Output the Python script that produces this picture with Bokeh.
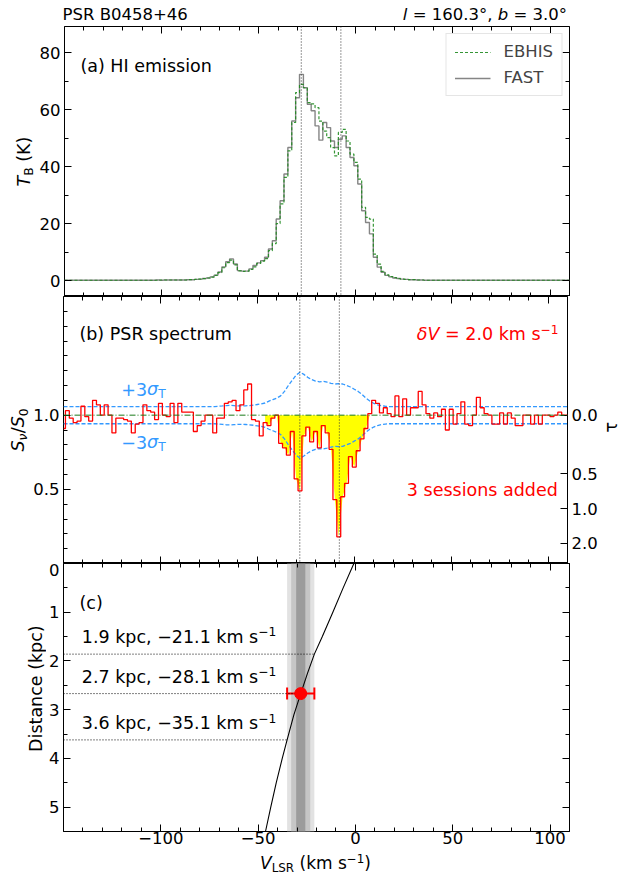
import numpy as np
from bokeh.plotting import figure
from bokeh.models import (Range1d, LinearAxis, FixedTicker, Span, Label, Legend,
                          LegendItem, BoxAnnotation, Whisker, TeeHead, ColumnDataSource,
                          CustomLabelingPolicy)
from bokeh.layouts import column, row
from bokeh.embed import file_html
from bokeh.resources import INLINE

FONT = "DejaVu Sans"

# ---------------- data ----------------
# channel centres (km/s), 2.0 km/s channels
v_chan = list(range(-150, 112, 2))

# (a) HI brightness temperature (K)
T_fast = [0.1, 0.1, 0.1, 0.1, 0.1, 0.1, 0.1, 0.1, 0.1, 0.1,
          0.1, 0.1, 0.1, 0.1, 0.1, 0.1, 0.1, 0.1, 0.1, 0.1,
          0.1, 0.1, 0.1, 0.1, 0.2, 0.1, 0.2, 0.2, 0.2, 0.2,
          0.2, 0.2, 0.3, 0.3, 0.4, 0.5, 0.7, 0.9, 1.3, 1.9,
          3.0, 4.8, 6.6, 7.6, 5.8, 3.5, 3.3, 3.3, 4.1, 5.3,
          6.2, 7.0, 8.2, 11.1, 14.0, 21.6, 28.0, 37.4, 46.7, 56.0,
          64.2, 72.4, 67.7, 61.9, 59.6, 54.3, 49.3, 55.5, 53.7, 49.0,
          46.7, 49.6, 50.8, 46.7, 43.2, 40.3, 33.9, 24.5, 20.4, 16.4,
          8.2, 4.7, 2.9, 1.8, 1.3, 0.9, 0.7, 0.5, 0.4, 0.3,
          0.3, 0.2, 0.2, 0.1, 0.1, 0.1, 0.1, 0.1, 0.1, 0.1,
          0.1, 0.1, 0.1, 0.1, 0.1, 0.1, 0.1, 0.1, 0.1, 0.1,
          0.1, 0.1, 0.1, 0.1, 0.1, 0.1, 0.1, 0.1, 0.1, 0.1,
          0.1, 0.1, 0.1, 0.1, 0.1, 0.1, 0.1, 0.1, 0.1, 0.1, 0.1]
T_ebhis = [0.1, 0.1, 0.1, 0.1, 0.1, 0.1, 0.1, 0.1, 0.1, 0.1,
           0.1, 0.1, 0.1, 0.1, 0.1, 0.1, 0.1, 0.1, 0.1, 0.1,
           0.1, 0.1, 0.1, 0.1, 0.1, 0.2, 0.2, 0.2, 0.2, 0.2,
           0.2, 0.2, 0.3, 0.3, 0.4, 0.5, 0.7, 0.9, 1.2, 1.8,
           2.8, 4.5, 6.3, 7.2, 5.5, 3.4, 3.2, 3.3, 3.9, 4.8,
           6.0, 6.8, 7.7, 10.5, 13.0, 20.0, 26.9, 36.2, 45.5, 55.5,
           66.0, 68.9, 67.7, 62.5, 62.0, 60.7, 56.0, 52.5, 50.2, 46.7,
           43.8, 52.0, 53.1, 49.0, 44.4, 41.5, 35.6, 25.7, 22.2, 21.6,
           9.3, 5.8, 3.2, 2.0, 1.4, 1.0, 0.7, 0.5, 0.4, 0.3,
           0.3, 0.2, 0.2, 0.1, 0.1, 0.1, 0.1, 0.1, 0.1, 0.1,
           0.1, 0.1, 0.1, 0.1, 0.1, 0.1, 0.1, 0.1, 0.1, 0.1,
           0.1, 0.1, 0.1, 0.1, 0.1, 0.1, 0.1, 0.1, 0.1, 0.1,
           0.1, 0.1, 0.1, 0.1, 0.1, 0.1, 0.1, 0.1, 0.1, 0.1, 0.1]

# (b) pulsar on/off spectrum S_nu/S_0
S_psr = [0.91, 1.03, 0.98, 0.95, 0.96, 1.06, 0.99, 0.96, 1.10, 1.07,
         1.00, 1.07, 1.00, 0.88, 0.98, 0.98, 0.97, 0.96, 0.88, 0.94,
         0.95, 1.07, 1.03, 1.02, 0.97, 1.08, 1.00, 0.99, 1.08, 0.95,
         1.08, 1.02, 1.02, 1.02, 0.89, 0.93, 0.96, 1.00, 1.00, 0.88,
         0.98, 0.98, 1.08, 1.09, 1.10, 1.03, 1.07, 1.17, 1.21, 0.97,
         0.96, 0.86, 0.95, 0.93, 0.98, 1.00, 0.81, 0.78, 0.73, 0.89,
         0.57, 0.49, 0.86, 0.92, 0.82, 0.89, 0.78, 0.93, 0.88, 0.77,
         0.43, 0.18, 0.45, 0.54, 0.72, 0.65, 0.76, 0.84, 0.91, 1.01,
         1.10, 1.08, 1.015, 1.05, 1.01, 0.99, 1.13, 0.99, 1.11, 1.00,
         1.05, 1.05, 1.16, 1.07, 1.01, 0.98, 1.015, 0.99, 1.04, 0.90,
         1.04, 0.94, 1.01, 1.09, 0.94, 0.93, 1.00, 1.12, 1.05, 1.01,
         1.00, 0.94, 0.94, 1.015, 0.94, 1.015, 0.98, 0.93, 0.93, 1.00,
         1.00, 0.94, 1.00, 0.94, 1.00, 1.00, 0.99, 1.00, 1.02, 1.00, 1.00]

# 3-sigma noise envelope (in S_nu/S_0 units)
v_sig = [-150, -72, -70, -68, -66, -64, -62, -60, -58, -56, -54, -52, -50, -48,
         -46, -44, -42, -40, -38, -36, -34, -32, -30, -28, -26, -24, -22, -20,
         -18, -16, -14, -12, -10, -8, -6, -4, -2, 0, 2, 4, 6, 8, 10, 12, 14,
         16, 18, 110]
sig3 = [0.058, 0.058, 0.060, 0.062, 0.065, 0.066, 0.064, 0.062, 0.062, 0.063,
        0.065, 0.068, 0.072, 0.076, 0.082, 0.095, 0.105, 0.115, 0.130, 0.160,
        0.200, 0.235, 0.270, 0.290, 0.275, 0.255, 0.240, 0.230, 0.225, 0.228,
        0.222, 0.215, 0.210, 0.212, 0.210, 0.200, 0.190, 0.175, 0.160, 0.140,
        0.115, 0.095, 0.080, 0.070, 0.064, 0.060, 0.058, 0.058]

fill_lo, fill_hi = -46, 8           # absorption window (yellow)
v_lines = [-28.1, -7.7]             # dotted velocity markers
tau_ticks = [0.0, 0.5, 1.0, 2.0]

# (c) distance - velocity relation
d_curve = [0.0, 0.5, 1.0, 1.5, 1.86, 2.25, 2.67, 3.1, 3.62, 4.0, 4.5, 5.0, 5.5]
v_curve = [-0.8, -6.3, -11.6, -17.0, -21.1, -24.6, -28.1, -31.6, -35.1, -37.6,
           -40.7, -43.5, -46.2]
d_mark = [1.86, 2.67, 3.62]
v_mark = [-21.1, -28.1, -35.1]
mark_text = ["1.9 kpc, \u221221.1 km s", "2.7 kpc, \u221228.1 km s", "3.6 kpc, \u221235.1 km s"]
v_psr, d_psr, v_err = -28.1, 2.67, 7.0
band_half = [7.0, 4.9, 2.35]
band_color = ["#e2e2e2", "#c6c6c6", "#9c9c9c"]

# ---------------- layout constants ----------------
XMIN, XMAX = -150, 110
TOTAL_W = 634
FL, FR = 61, 569                  # frame left / right (px)
H_TITLE, H_A, H_B, H_C, C_BOT, H_XL = 26, 270, 267, 268, 19, 24
x_major = [-100, -50, 0, 50, 100]
x_minor = list(range(-150, 111, 10))
KB = 0.30                         # baseline correction (em)

# DejaVu Sans advance widths (em)
CW = {' ': .318, '\u00a0': .318, '(': .390, ')': .390, '+': .838, ',': .318, '-': .361,
      '.': .318, '/': .337, '=': .838, '\u2212': .838, '\u00b0': .500,
      'B': .686, 'D': .770, 'E': .632, 'H': .752, 'I': .295, 'K': .656, 'L': .557,
      'P': .603, 'R': .695, 'S': .635, 'T': .611, 'V': .684,
      'a': .613, 'b': .635, 'c': .550, 'd': .635, 'e': .615, 'i': .278, 'k': .579,
      'l': .278, 'm': .974, 'n': .634, 'o': .612, 'p': .635, 'r': .411, 's': .521,
      't': .392, 'u': .634, '\u03c3': .634, '\u03bd': .592, '\u03b4': .612, '\u03c4': .560}
for ch in "0123456789":
    CW[ch] = .636


def tw(s, fs):
    return sum(CW.get(c, .6) for c in s) * fs


def lab(p, x, y, text, fs, color="black", align="left", angle=0.0, xo=0.0, yo=0.0, style="normal"):
    corr = KB * fs
    if angle == 0:
        yo += corr
    else:
        xo -= corr
    p.add_layout(Label(x=x, y=y, x_offset=xo, y_offset=yo, text=text, angle=angle,
                       text_font=FONT, text_font_size=f"{fs:.2f}px", text_font_style=style,
                       text_color=color, text_align=align, text_baseline="alphabetic"))


def rich(p, x, y, parts, size, color="black", align="left", angle=0.0):
    items, total = [], 0.0
    for t, st in parts:
        t = t.replace(" ", "\u00a0")
        fs = size * 0.7 if st in ("sub", "isub", "sup") else size
        items.append((t, st, fs, total))
        total += tw(t, fs)
    start = {"left": 0.0, "center": -total / 2, "right": -total}[align]
    for t, st, fs, off in items:
        shift = -0.19 * size if st in ("sub", "isub") else (0.38 * size if st == "sup" else 0.0)
        along = start + off
        if angle == 0:
            xo, yo = along, shift
        else:
            xo, yo = -shift, along
        lab(p, x, y, t, fs, color=color, angle=angle, xo=xo, yo=yo,
            style="italic" if st in ("i", "isub") else "normal")


def style(ax, major, minor, show=True, overrides=None, standoff=4):
    ax.ticker = FixedTicker(ticks=major, minor_ticks=minor)
    ax.axis_line_color = None
    ax.major_tick_in = 7
    ax.major_tick_out = 0
    ax.minor_tick_in = 4
    ax.minor_tick_out = 0
    ax.major_tick_line_color = "black"
    ax.minor_tick_line_color = "black"
    if show:
        ax.major_label_text_font = FONT
        ax.major_label_text_font_size = "16.5px"
        ax.major_label_text_color = "black"
        ax.major_label_standoff = standoff
        if overrides:
            ax.major_label_overrides = overrides
    else:
        ax.major_label_text_font_size = "0px"
        ax.major_label_standoff = 0
        ax.major_label_policy = CustomLabelingPolicy(code="return new Set()")


def make_fig(w, h, yr, left, right, top, bottom):
    p = figure(width=w, height=h, x_range=Range1d(XMIN, XMAX), y_range=yr,
               output_backend="svg", toolbar_location=None,
               min_border_left=left, min_border_right=right,
               min_border_top=top, min_border_bottom=bottom)
    p.xgrid.visible = False
    p.ygrid.visible = False
    p.outline_line_color = "black"
    p.outline_line_width = 1
    p.outline_line_alpha = 1
    p.background_fill_color = "white"
    p.border_fill_color = "white"
    return p


def text_fig(w, h):
    # blank canvas (pixel coordinates, y downward) that only carries text
    p = figure(width=w, height=h, x_range=Range1d(0, w), y_range=Range1d(h, 0),
               output_backend="svg", toolbar_location=None, x_axis_type=None,
               y_axis_type=None, min_border=0)
    p.xgrid.visible = False
    p.ygrid.visible = False
    p.outline_line_color = None
    p.background_fill_color = "white"
    p.border_fill_color = "white"
    return p


def frame_axes(p, ymaj, ymin, show_left=True, show_bottom=False, left_over=None):
    style(p.xaxis[0], x_major, x_minor, show=show_bottom, standoff=0)
    style(p.yaxis[0], ymaj, ymin, show=show_left, overrides=left_over)
    top = LinearAxis()
    p.add_layout(top, "above")
    style(top, x_major, x_minor, show=False)


# ---------------- title strip ----------------
tfig = text_fig(TOTAL_W, H_TITLE)
lab(tfig, 62, 18.5, "PSR B0458+46", 16.5)
rich(tfig, 566.5, 18.5, [("l", "i"), (" = 160.3\u00b0, ", "n"), ("b", "i"), (" = 3.0\u00b0", "n")],
     16.5, align="right")

# ---------------- panel (a) ----------------
LA = 36
pa = make_fig(TOTAL_W - LA, H_A, Range1d(-5.6, 89.2), FL - LA, TOTAL_W - FR, 0, 0)
frame_axes(pa, [0, 20, 40, 60, 80], [10, 30, 50, 70])
ra = LinearAxis()
pa.add_layout(ra, "right")
style(ra, [0, 20, 40, 60, 80], [10, 30, 50, 70], show=False)

r_f = pa.step(v_chan, T_fast, mode="center", line_color="#858585", line_width=1.4)
r_e = pa.step(v_chan, T_ebhis, mode="center", line_color="#1f8a1f", line_width=1.2,
              line_dash="3 2", line_alpha=0.9)
for v in v_lines:
    pa.add_layout(Span(location=v, dimension="height", line_color="#333333",
                       line_dash="1 2", line_width=1))
leg = Legend(items=[LegendItem(label="EBHIS", renderers=[r_e]),
                    LegendItem(label="FAST", renderers=[r_f])],
             location="top_right", label_text_font=FONT, label_text_font_size="16.5px",
             glyph_width=36, glyph_height=18, label_height=18, label_standoff=13,
             padding=8, spacing=7, margin=7, border_line_color="#cccccc",
             border_line_width=1, background_fill_alpha=0.9)
pa.add_layout(leg)
lab(pa, -141.8, 73.5, "(a) HI emission", 17.5)

lab_a = text_fig(LA, H_A)
rich(lab_a, 29, 135, [("T", "i"), ("B", "sub"), (" (K)", "n")], 17.5,
     align="center", angle=np.pi / 2)

# ---------------- panel (b) ----------------
LBW, TAUW = 30, 34
pb = make_fig(TOTAL_W - LBW - TAUW, H_B, Range1d(0, 1.8), FL - LBW, TOTAL_W - TAUW - FR, 0, 0)
frame_axes(pb, [0.5, 1.0],
           [0.1, 0.2, 0.3, 0.4, 0.6, 0.7, 0.8, 0.9, 1.1, 1.2, 1.3, 1.4, 1.5, 1.6, 1.7],
           left_over={0.5: "0.5", 1.0: "1.0"})
tau_pos = [float(np.exp(-t)) for t in tau_ticks]
rb = LinearAxis()
pb.add_layout(rb, "right")
style(rb, tau_pos, [], show=True,
      overrides={pos: f"{t:.1f}" for pos, t in zip(tau_pos, tau_ticks)})

vf = [v for v in v_chan if fill_lo <= v <= fill_hi]
sf = [min(s, 1.0) for v, s in zip(v_chan, S_psr) if fill_lo <= v <= fill_hi]
pb.varea(x=vf, y1=sf, y2=[1.0] * len(vf), fill_color="#ffff00")
up = [1 + s for s in sig3]
lo = [1 - s for s in sig3]
pb.line(v_sig, up, line_color="#3399ff", line_dash="4 2", line_width=1.3)
pb.line(v_sig, lo, line_color="#3399ff", line_dash="4 2", line_width=1.3)
pb.step(v_chan, S_psr, mode="center", line_color="#ff0000", line_width=1.3)
pb.add_layout(Span(location=1.0, dimension="width", line_color="#1a7a1a",
                   line_dash="6 2 1 2", line_width=1))
for v in v_lines:
    pb.add_layout(Span(location=v, dimension="height", line_color="#333333",
                       line_dash="1 2", line_width=1))

lab(pb, -141.8, 1.51, "(b) PSR spectrum", 17.5)
rich(pb, 105.4, 1.51, [("\u03b4V", "i"), (" = 2.0 km s", "n"), ("\u22121", "sup")],
     17.5, color="#ff0000", align="right")
rich(pb, -120.2, 1.139, [("+3", "n"), ("\u03c3", "i"), ("T", "sub")], 17.5, color="#3399ff")
rich(pb, -120.2, 0.782, [("\u22123", "n"), ("\u03c3", "i"), ("T", "sub")], 17.5, color="#3399ff")
lab(pb, 105.0, 0.458, "3 sessions added", 17.5, color="#ff0000", align="right")

lab_b = text_fig(LBW, H_B)
rich(lab_b, 23, 133.5, [("S", "i"), ("\u03bd", "isub"), ("/", "n"), ("S", "i"), ("0", "sub")],
     17.5, align="center", angle=np.pi / 2)
tau_f = text_fig(TAUW, H_B)
rich(tau_f, 16, 131, [("\u03c4", "n")], 17.5, align="center", angle=np.pi / 2)

# ---------------- panel (c) ----------------
LC = 46
pc = make_fig(TOTAL_W - LC, H_C + C_BOT, Range1d(5.5, 0), FL - LC, TOTAL_W - FR, 0, C_BOT)
frame_axes(pc, [0, 1, 2, 3, 4, 5], [0.5, 1.5, 2.5, 3.5, 4.5, 5.5], show_bottom=True)
rc = LinearAxis()
pc.add_layout(rc, "right")
style(rc, [0, 1, 2, 3, 4, 5], [0.5, 1.5, 2.5, 3.5, 4.5, 5.5], show=False)

for h, c in zip(band_half, band_color):
    pc.add_layout(BoxAnnotation(left=v_psr - h, right=v_psr + h, fill_color=c,
                                fill_alpha=1, line_color=None, level="underlay"))
pc.line(v_curve, d_curve, line_color="black", line_width=1.1)
pc.segment(x0=[XMIN] * len(d_mark), y0=d_mark, x1=v_mark, y1=d_mark,
           line_color="black", line_dash="1 2", line_width=1)
esrc = ColumnDataSource(dict(base=[d_psr], lower=[v_psr - v_err], upper=[v_psr + v_err]))
pc.add_layout(Whisker(source=esrc, base="base", lower="lower", upper="upper",
                      dimension="width", line_color="#ff0000", line_width=2,
                      upper_head=TeeHead(size=12, line_color="#ff0000", line_width=2),
                      lower_head=TeeHead(size=12, line_color="#ff0000", line_width=2)))
pc.scatter([v_psr], [d_psr], size=12, color="#ff0000")

lab(pc, -141.8, 0.923, "(c)", 17.5)
for t, yb in zip(mark_text, [1.614, 2.435, 3.386]):
    rich(pc, -140.6, yb, [(t, "n"), ("\u22121", "sup")], 17.5)

lab_c = text_fig(LC, H_C + C_BOT)
lab(lab_c, 41, H_C / 2, "Distance (kpc)", 17.5, align="center", angle=np.pi / 2)

# ---------------- x-axis title strip ----------------
xfig = text_fig(TOTAL_W, H_XL)
rich(xfig, 315, 17.9, [("V", "i"), ("LSR", "sub"), (" (km s", "n"), ("\u22121", "sup"), (")", "n")],
     17.0, align="center")

layout = column(tfig, row(lab_a, pa), row(lab_b, pb, tau_f), row(lab_c, pc), xfig)
open("out.html", "w").write(file_html(layout, INLINE))
